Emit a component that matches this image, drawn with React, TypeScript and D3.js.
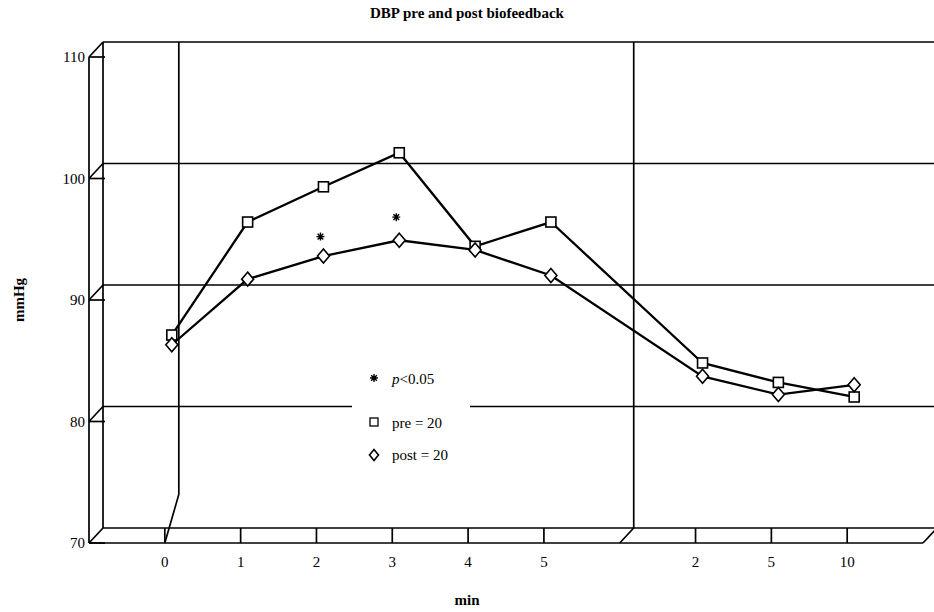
import React from "react";
import * as d3 from "d3";

// categories (left block: minutes during session, right block: minutes after)
const leftCats = ["0", "1", "2", "3", "4", "5"];
const rightCats = ["2", "5", "10"];

// DBP values, mmHg
const preLeft = [86.5, 95.8, 98.7, 101.5, 93.8, 95.8];
const preRight = [84.2, 82.6, 81.4];
const postLeft = [85.7, 91.1, 93.0, 94.3, 93.5, 91.4];
const postRight = [83.1, 81.6, 82.4];

// significance markers
const sigCats = ["L2", "L3"];
const sigValues = [94.6, 96.2];

const yTicks = [70, 80, 90, 100, 110];
const gridValues = [80, 90, 100];

const W = 934;
const H = 612;
const DX = 14; // depth offset of the back wall
const DY = -15;
const FONT = "'Liberation Serif', 'Times New Roman', serif";

// 8-armed star like the printed asterisk
function star(cx: number, cy: number, r: number) {
  const d = r * Math.SQRT1_2;
  return `M${cx - r},${cy}H${cx + r}M${cx},${cy - r}V${cy + r}` +
    `M${cx - d},${cy - d}L${cx + d},${cy + d}M${cx - d},${cy + d}L${cx + d},${cy - d}`;
}

export default function App() {
  const slots = [
    "start",
    ...leftCats.map(c => "L" + c),
    "break",
    ...rightCats.map(c => "R" + c),
    "end",
  ];
  const x = d3.scalePoint<string>().domain(slots).range([89, 923]);
  const y = d3.scaleLinear().domain([70, 110]).range([543, 57]);
  const yb = (v: number) => y(v) + DY; // back wall
  const ym = (v: number) => y(v) + DY / 2; // plane of the series

  const catKeys = [...leftCats.map(c => "L" + c), ...rightCats.map(c => "R" + c)];
  const catLabels = [...leftCats, ...rightCats];
  const pre = [...preLeft, ...preRight];
  const post = [...postLeft, ...postRight];

  const px = (k: string) => (x(k) as number) + DX / 2;
  const line = d3
    .line<number>()
    .x((_, i) => px(catKeys[i]))
    .y(d => ym(d));

  const x0 = x("start") as number;
  const xEnd = x("end") as number;
  const xBreak = x("break") as number;
  const xZero = x("L0") as number;
  const yTop = y(110);
  const yBot = y(70);

  const frame = { stroke: "#000", strokeWidth: 1.7, fill: "none" };
  const sq = 10;
  const diamond = (cx: number, cy: number, r: number) =>
    `M${cx},${cy - r - 1}L${cx + r},${cy}L${cx},${cy + r + 1}L${cx - r},${cy}Z`;

  return (
    <svg
      width={W}
      height={H}
      style={{ position: "absolute", left: 0, top: 0, background: "#fff" }}
      fontFamily={FONT}
    >
      <rect width={W} height={H} fill="#fff" />

      {/* back wall */}
      <line x1={x0 + DX} y1={yb(110)} x2={xEnd + DX} y2={yb(110)} {...frame} />
      <line x1={x0 + DX} y1={yb(110)} x2={x0 + DX} y2={yb(70)} {...frame} />
      <line x1={x0 + DX} y1={yb(70)} x2={xEnd + DX} y2={yb(70)} {...frame} />
      {gridValues.map(v => (
        <line key={v} x1={x0 + DX} y1={yb(v)} x2={xEnd + DX} y2={yb(v)} {...frame} />
      ))}

      {/* inner verticals */}
      <polyline
        points={`${xZero + DX},${yb(110)} ${xZero + DX},${y(74)} ${xZero},${yBot}`}
        {...frame}
      />
      <polyline
        points={`${xBreak + DX},${yb(110)} ${xBreak + DX},${yb(70)} ${xBreak},${yBot}`}
        {...frame}
      />

      {/* side wall + front edges */}
      <line x1={x0} y1={yTop} x2={x0} y2={yBot} {...frame} />
      <line x1={x0} y1={yBot} x2={xEnd} y2={yBot} {...frame} />
      <line x1={xEnd} y1={yBot} x2={xEnd + DX} y2={yb(70)} {...frame} />
      {yTicks.map(v => (
        <g key={v}>
          <line x1={x0} y1={y(v)} x2={x0 + DX} y2={yb(v)} {...frame} />
          <line x1={x0} y1={y(v)} x2={x0 + DX + 2} y2={y(v)} {...frame} />
          <text x={x0 - 4} y={y(v) + 5} textAnchor="end" fontSize={15}>
            {v}
          </text>
        </g>
      ))}

      {/* x ticks */}
      {catKeys.map((k, i) => (
        <g key={k}>
          <line x1={x(k)} y1={yb(70)} x2={x(k)} y2={yBot} {...frame} />
          <text x={x(k)} y={567} textAnchor="middle" fontSize={15}>
            {catLabels[i]}
          </text>
        </g>
      ))}

      {/* legend box */}
      <rect x={352} y={362} width={118} height={106} fill="#fff" />
      <path d={star(374, 378, 4)} stroke="#000" strokeWidth={1.4} fill="none" />
      <text x={392} y={384} fontSize={15}>
        <tspan fontStyle="italic">p</tspan>&lt;0.05
      </text>
      <rect x={370} y={418} width={8} height={8} fill="#fff" stroke="#000" strokeWidth={1.3} />
      <text x={392} y={428} fontSize={15}>pre = 20</text>
      <path d={diamond(374, 455, 4.5)} fill="#fff" stroke="#000" strokeWidth={1.6} />
      <text x={392} y={460} fontSize={15}>post = 20</text>

      {/* series */}
      <path d={line(pre) || ""} stroke="#000" strokeWidth={2.3} fill="none" />
      <path d={line(post) || ""} stroke="#000" strokeWidth={2.3} fill="none" />
      {pre.map((v, i) => (
        <rect
          key={"p" + i}
          x={px(catKeys[i]) - sq / 2}
          y={ym(v) - sq / 2}
          width={sq}
          height={sq}
          fill="#fff"
          stroke="#000"
          strokeWidth={1.6}
        />
      ))}
      {post.map((v, i) => (
        <path
          key={"q" + i}
          d={diamond(px(catKeys[i]), ym(v), 6)}
          fill="#fff"
          stroke="#000"
          strokeWidth={1.6}
        />
      ))}
      {sigCats.map((k, i) => (
        <path
          key={k}
          d={star(px(k) - 3, ym(sigValues[i]), 4)}
          stroke="#000"
          strokeWidth={1.4}
          fill="none"
        />
      ))}

      {/* titles */}
      <text x={467} y={18} textAnchor="middle" fontSize={15} fontWeight="bold">
        DBP pre and post biofeedback
      </text>
      <text
        transform="translate(24,300) rotate(-90)"
        textAnchor="middle"
        fontSize={15}
        fontWeight="bold"
      >
        mmHg
      </text>
      <text x={467} y={605} textAnchor="middle" fontSize={15} fontWeight="bold">
        min
      </text>
    </svg>
  );
}
